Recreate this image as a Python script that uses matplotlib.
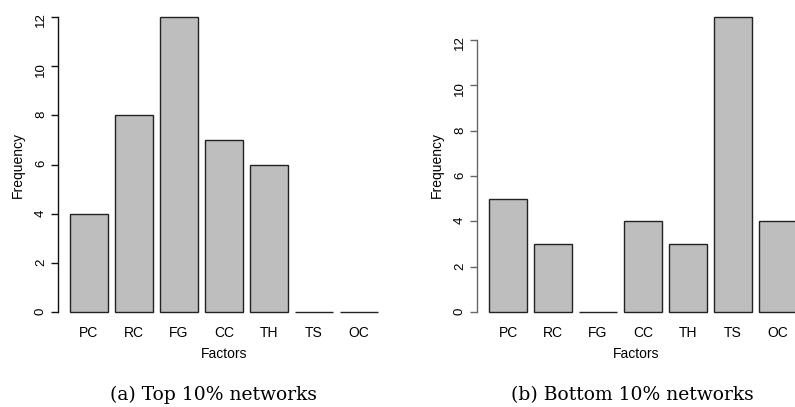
import numpy as np
import matplotlib
matplotlib.use("Agg")
import matplotlib.pyplot as plt

factors = ["PC", "RC", "FG", "CC", "TH", "TS", "OC"]
top_freq = [4, 8, 12, 7, 6, 0, 0]
bottom_freq = [5, 3, 0, 4, 3, 13, 4]
captions = ["(a) Top 10% networks", "(b) Bottom 10% networks"]

W, H = 795, 407
plt.rcParams["font.family"] = ["Liberation Sans", "DejaVu Sans"]

fig = plt.figure(figsize=(W / 100, H / 100), dpi=100)


def px_axes(x0, y0, x1, y1):
    # pixel box (top-left origin) -> figure fraction
    return fig.add_axes([x0 / W, 1 - y1 / H, (x1 - x0) / W, (y1 - y0) / H])


def r_barplot(ax, vals, ylim, axis_col):
    pos = 0.7 + 1.2 * np.arange(len(vals))   # R barplot spacing (space=0.2)
    ax.bar(pos, vals, width=1.0, color="#bebebe", edgecolor="#222222",
           linewidth=1.0, clip_on=True)
    ax.set_ylim(*ylim)
    for s in ["top", "right", "bottom"]:
        ax.spines[s].set_visible(False)
    ax.spines["left"].set_bounds(0, 12)
    ax.spines["left"].set_color(axis_col)
    ax.spines["left"].set_linewidth(1.0)
    ax.set_yticks(range(0, 13, 2))
    ax.tick_params(axis="y", length=5, width=1.0, color=axis_col, pad=3,
                   labelsize=9.5, labelrotation=90)
    ax.set_xticks(pos)
    ax.set_xticklabels(factors)
    ax.tick_params(axis="x", length=0, pad=4.5, labelsize=10)
    ax.set_xlabel("Factors", fontsize=10, labelpad=5)
    ax.set_ylabel("Frequency", fontsize=10, labelpad=7)
    ax.patch.set_alpha(0)
    return pos


# left panel: 0 at y=312px, 24.58 px per unit, 37.5 px per bar unit
ax1 = px_axes(58, 10, 390, 320)
ax1.set_xlim(-0.1267, 8.727)
r_barplot(ax1, top_freq, (-8 / 24.58, 302 / 24.58), "#111111")

# right panel: cut off at the image edge like the source
ax2 = px_axes(477, 10, 795, 320)
ax2.set_xlim(-0.1267, 8.353)
r_barplot(ax2, bottom_freq, (-8 / 22.67, 302 / 22.67), "#666666")

fig.text(213 / W, 1 - 395 / H, captions[0], family="DejaVu Serif",
         fontsize=13.5, ha="center", va="center")
fig.text(632 / W, 1 - 395 / H, captions[1], family="DejaVu Serif",
         fontsize=13.5, ha="center", va="center")

fig.savefig("out.png", dpi=100)
